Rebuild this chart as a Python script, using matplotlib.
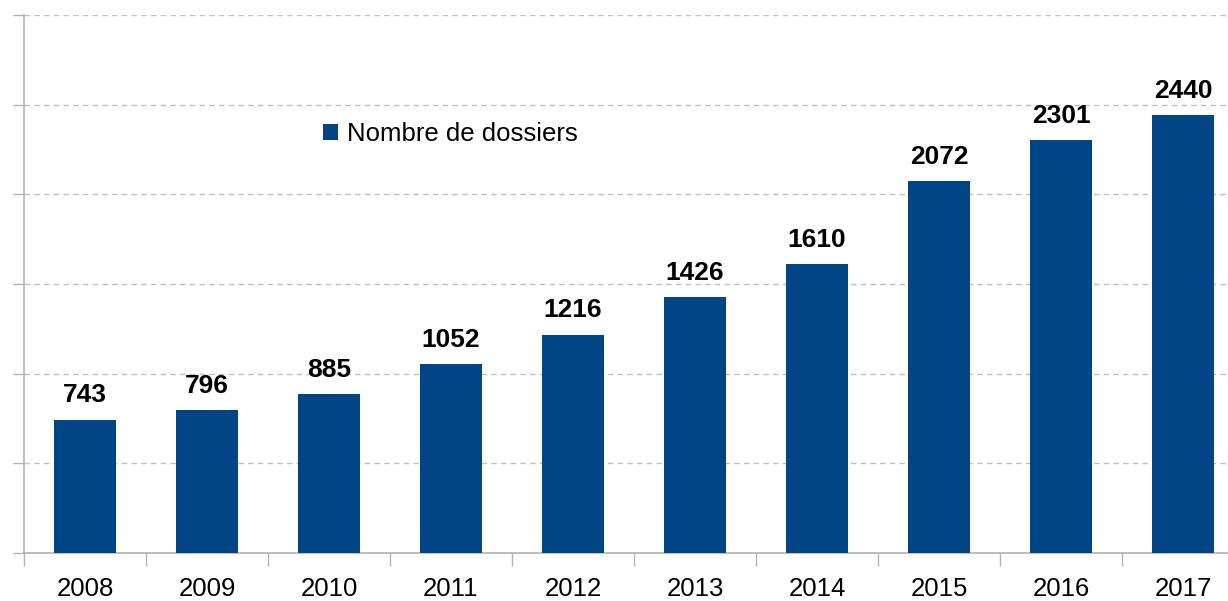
import matplotlib
matplotlib.use("Agg")
import matplotlib.pyplot as plt
import numpy as np

# Data
years = ["2008", "2009", "2010", "2011", "2012", "2013", "2014", "2015", "2016", "2017"]
dossiers = [743, 796, 885, 1052, 1216, 1426, 1610, 2072, 2301, 2440]
series_label = "Nombre de dossiers"

plt.rcParams["font.family"] = ["Liberation Sans", "DejaVu Sans"]

W, H = 1228, 601
fig = plt.figure(figsize=(W / 100, H / 100), dpi=100)
ax = fig.add_axes([24 / W, 1 - 553 / H, 1 - 24 / W, (553 - 15) / H])

bar_color = "#004586"
x = np.arange(len(years))
bars = ax.bar(x, dossiers, width=0.51, color=bar_color, label=series_label, zorder=3)

# grid
ax.set_yticks(np.arange(0, 3001, 500))
ax.yaxis.grid(True, color="#c0c0c0", linestyle=(0, (4, 3)), linewidth=1.0, zorder=0)
ax.set_yticklabels([])
ax.tick_params(axis="y", length=8, color="#b3b3b3", width=1.0)

# x ticks: labels at centres, marks at category boundaries
ax.set_xticks(x)
ax.set_xticklabels(years, fontsize=18.5)
ax.tick_params(axis="x", which="major", length=0, pad=17)
ax.set_xticks(np.arange(-0.5, len(years), 1.0), minor=True)
ax.tick_params(axis="x", which="minor", length=9, color="#b3b3b3", width=1.0)

# limits after ticks (set_xticks may widen the view)
ax.set_xlim(-0.5, (W - 24) / 122 - 0.5)
ax.set_ylim(0, 3000)

for s in ["top", "right"]:
    ax.spines[s].set_visible(False)
for s in ["left", "bottom"]:
    ax.spines[s].set_color("#b3b3b3")
    ax.spines[s].set_linewidth(1.2)

# value labels
for xi, v in zip(x, dossiers):
    ax.annotate(f"{v}", (xi, v), xytext=(0, 9), textcoords="offset points",
                ha="center", va="bottom", fontsize=19, fontweight="bold", color="black")

leg = ax.legend(loc="center left", bbox_to_anchor=(323 / W, 1 - 134 / H),
                bbox_transform=fig.transFigure, frameon=False, fontsize=18.5,
                handlelength=0.6, handleheight=0.6, handletextpad=0.35,
                borderpad=0, borderaxespad=0)

fig.savefig("out.png", dpi=100)
